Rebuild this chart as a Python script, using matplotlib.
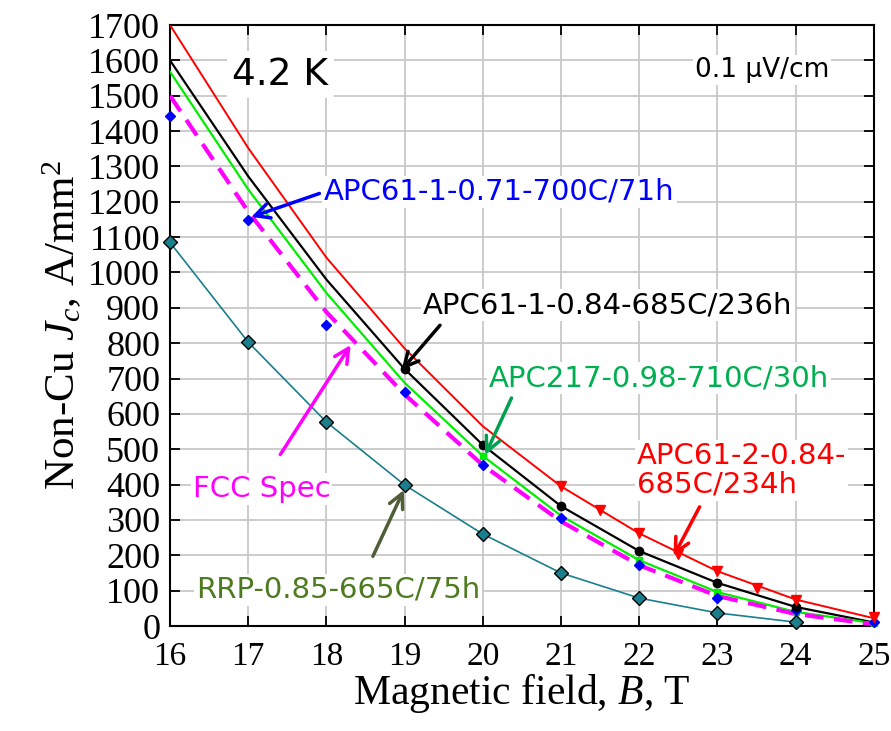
import matplotlib
matplotlib.use("Agg")
from matplotlib import pyplot as plt

# field values, T
B = [16, 17, 18, 19, 20, 21, 22, 23, 24, 25]

# fitted curves read at integer fields, A/mm2
red_fit = [1700, 1352, 1042, 785, 565, 395, 262, 155, 75, 22]
black_fit = [1600, 1272, 980, 727, 512, 339, 212, 122, 54, 10]
green_fit = [1568, 1235, 942, 688, 481, 312, 186, 96, 40, 8]
fcc_spec = [1500, 1172, 888, 655, 455, 296, 172, 85, 34, 5]

# measured points
blue_pts = [1443, 1148, 851, 662, 455, 305, 172, 79, 45, 10]
black_B = [19, 20, 21, 22, 23, 24]
black_pts = [727, 512, 339, 212, 122, 54]
red_B = [21, 21.5, 22, 22.5, 23, 23.5, 24, 25]
red_pts = [396, 328, 263, 205, 156, 107, 74, 25]
green_B = [20, 22, 23, 24, 25]
green_pts = [480, 186, 96, 40, 8]
rrp_B = [16, 17, 18, 19, 20, 21, 22, 23, 24]
rrp_pts = [1085, 803, 577, 399, 260, 150, 79, 37, 11]

plt.rcParams['mathtext.fontset'] = 'custom'
plt.rcParams['mathtext.rm'] = 'Liberation Serif'
plt.rcParams['mathtext.it'] = 'Liberation Serif:italic'

fig = plt.figure(figsize=(8.91, 7.31), dpi=100)
ax = fig.add_axes([0.1908, 0.1436, 0.790, 0.8222])

ax.grid(True, color='#c8c8c8', lw=1.3, zorder=0)
ax.set_axisbelow(True)

# fit lines
ax.plot(B, red_fit, color='#ff0000', lw=1.4, zorder=3)
ax.plot(B, black_fit, color='black', lw=1.6, zorder=3)
ax.plot(B, green_fit, color='#00ee00', lw=1.6, zorder=3)
ax.plot(B, fcc_spec, color='#ff00ff', lw=3, dashes=(4.5, 2.5), zorder=4)
ax.plot(rrp_B, rrp_pts, color='#1a7f8c', lw=1.2, zorder=3)

# markers
ax.plot(B, blue_pts, 'D', color='#0000ff', ms=5.5, zorder=5, clip_on=False)
ax.plot(black_B, black_pts, 'o', color='black', ms=6, zorder=5)
ax.plot(red_B, red_pts, 'v', color='#ff0000', ms=6.5, zorder=5, clip_on=False)
ax.plot(green_B, green_pts, 's', color='#00ee00', ms=5, zorder=4, clip_on=False)
ax.plot(rrp_B, rrp_pts, 'D', color='#1a7f8c', mec='black', mew=1, ms=7.5, zorder=6, clip_on=False)

ax.set_xlim(16, 25)
ax.set_ylim(0, 1700)
ax.set_xticks(range(16, 26))
ax.set_yticks(range(0, 1701, 100))
ax.tick_params(direction='in', length=7, width=1.3, top=True, right=True)
ax.tick_params(axis='x', labelsize=24, pad=11)
ax.tick_params(axis='y', labelsize=26, pad=7)
for lab in ax.get_xticklabels() + ax.get_yticklabels():
    lab.set_fontfamily('Liberation Serif')
for s in ax.spines.values():
    s.set_linewidth(1.5)

ax.set_xlabel('Magnetic field, $B$, T', fontsize=30, family='Liberation Serif', labelpad=0)
ax.set_ylabel('Non-Cu $J_c$, A/mm$^2$', fontsize=31, family='Liberation Serif', labelpad=3)

sans = 'DejaVu Sans'
box = dict(facecolor='white', edgecolor='none', pad=1.5)

ax.text(17.41, 1559, '4.2 K', fontsize=27, family=sans, ha='center', va='center',
        bbox=dict(facecolor='white', edgecolor='none', pad=4), zorder=7)
ax.text(23.57, 1573, '0.1 \u00b5V/cm', fontsize=19, family=sans, ha='center', va='center',
        bbox=box, zorder=7)


def label(txt, xy, xytext, col, acol, rel, sa, ha='center'):
    ax.annotate(txt, xy=xy, xytext=xytext, fontsize=21, family=sans, color=col,
                ha=ha, va='center', linespacing=1.05, bbox=box, zorder=8,
                arrowprops=dict(arrowstyle='->', color=acol, lw=2.5,
                                mutation_scale=26, shrinkA=sa, shrinkB=0,
                                relpos=rel))


label('APC61-1-0.71-700C/71h', (17.04, 1157), (17.97, 1228), '#0000ff', '#0000ff',
      (0, 0.5), 2, ha='left')
label('APC61-1-0.84-685C/236h', (18.96, 724), (21.6, 908), 'black', 'black',
      (0.06, 0), 4)
label('APC217-0.98-710C/30h', (20.03, 484), (22.25, 701), '#00b050', '#00a050',
      (0.075, 0), 3)
label('APC61-2-0.84-\n685C/234h', (22.44, 198), (21.97, 441), '#ff0000', '#ff0000',
      (0.32, 0), 5, ha='left')
label('FCC Spec', (18.31, 795), (17.17, 387), '#ff00ff', '#ff00ff',
      (0.54, 1), 16)
label('RRP-0.85-665C/75h', (18.99, 385), (18.15, 102), '#4e7a20', '#4f5e38',
      (0.59, 1), 14)

fig.savefig('out.png', dpi=100)
